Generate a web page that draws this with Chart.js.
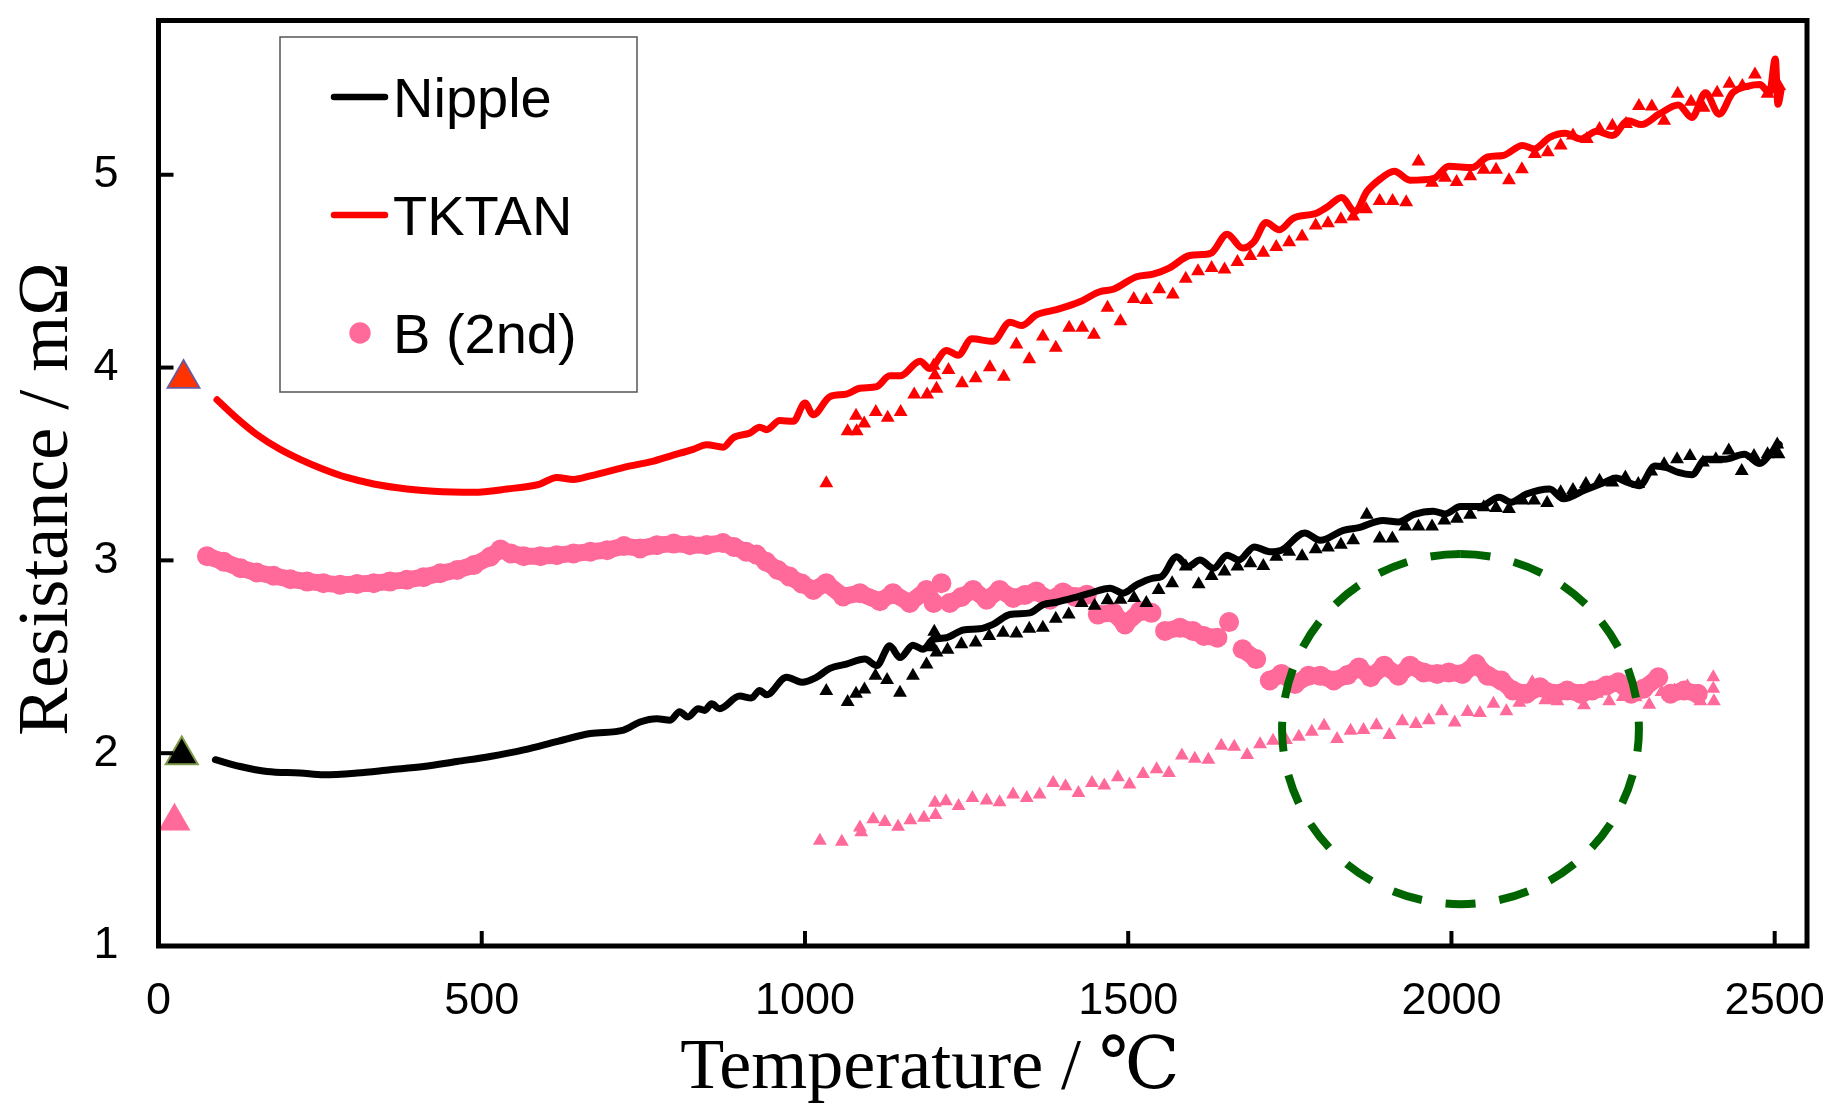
<!DOCTYPE html>
<html>
<head>
<meta charset="utf-8">
<script src="https://cdn.jsdelivr.net/npm/chart.js@4.4.1/dist/chart.umd.min.js"></script>
<style>
html,body{margin:0;padding:0;background:#ffffff;}
canvas{display:block;}
</style>
</head>
<body>
<canvas id="c" width="1831" height="1106"></canvas>
<script>
// ---------------- DATA (temperature °C, resistance mΩ) ----------------
const xTickValues = [0, 500, 1000, 1500, 2000, 2500];
const yTickValues = [1, 2, 3, 4, 5];
const xTitle = 'Temperature / ℃';
const yTitle = 'Resistance / mΩ';
const legendLabels = ['Nipple', 'TKTAN', 'B (2nd)'];

// Nipple (continuous line)
const nippleLine = [[88,1.966],[126.5,1.931],[168,1.905],[219,1.897],[255.5,1.888],[307,1.897],[358.5,1.914],[410,1.931],[461.6,1.957],[513,1.983],[565,2.017],[616,2.06],[668,2.102],[719.5,2.12],[745,2.162],[771,2.179],[791.5,2.171],[806,2.215],[819,2.188],[835,2.231],[845,2.222],[855.5,2.256],[868,2.231],[899,2.296],[917,2.286],[930,2.325],[940.6,2.303],[971.5,2.394],[995,2.368],[1018,2.394],[1038.5,2.44],[1064,2.462],[1092.6,2.488],[1111,2.454],[1131,2.557],[1147,2.496],[1167,2.56],[1183,2.539],[1198,2.59],[1219,2.599],[1245,2.639],[1270,2.645],[1291,2.668],[1317,2.719],[1348,2.728],[1368,2.77],[1389,2.783],[1415,2.805],[1441,2.83],[1472,2.856],[1492,2.83],[1513,2.873],[1538.5,2.908],[1551.5,2.916],[1575,3.019],[1593,2.968],[1611,3.002],[1632,2.959],[1653,3.027],[1671,3.002],[1695,3.07],[1719,3.045],[1737,3.053],[1773,3.142],[1797,3.104],[1833,3.156],[1857,3.17],[1894,3.207],[1918,3.199],[1942,3.238],[1972,3.255],[1990,3.241],[2014,3.279],[2044,3.279],[2074,3.327],[2092,3.302],[2116,3.344],[2152,3.37],[2173,3.319],[2206.5,3.365],[2236.6,3.404],[2254.5,3.427],[2272.6,3.404],[2290.7,3.387],[2315,3.49],[2333,3.481],[2351,3.456],[2372,3.444],[2393,3.524],[2423,3.524],[2453,3.55],[2477,3.502],[2495,3.559],[2507,3.601]];

// Nipple (triangles)
const nippleTri = [[1033,2.322],[1066,2.265],[1079,2.308],[1092,2.33],[1109,2.402],[1127,2.38],[1147,2.313],[1167,2.402],[1188,2.46],[1198,2.55],[1200,2.63],[1201,2.60],[1203.5,2.522],[1220.5,2.536],[1242,2.565],[1264,2.574],[1285,2.608],[1306.5,2.625],[1327,2.621],[1347,2.645],[1368,2.65],[1388,2.697],[1408,2.719],[1428,2.779],[1448,2.765],[1468,2.793],[1488,2.796],[1509,2.805],[1528,2.779],[1547,2.847],[1568,2.882],[1589,2.968],[1609,2.876],[1629,2.919],[1649,2.942],[1669,2.968],[1689,2.985],[1709,2.971],[1729,3.019],[1749,3.045],[1769,3.022],[1790,3.058],[1809,3.067],[1829,3.081],[1848,3.104],[1869,3.236],[1889,3.113],[1908.6,3.113],[1928.5,3.176],[1949,3.176],[1970,3.176],[1989,3.207],[2008.5,3.216],[2029,3.236],[2050,3.276],[2069,3.272],[2089,3.267],[2110,3.31],[2128,3.31],[2148,3.298],[2169,3.353],[2188,3.365],[2208,3.396],[2229,3.413],[2249,3.404],[2269,3.43],[2289,3.396],[2309,3.461],[2329,3.499],[2349,3.524],[2369,3.541],[2389,3.507],[2409,3.524],[2429,3.57],[2449,3.464],[2468,3.541],[2489,3.55],[2504,3.601],[2506,3.55]];

// TKTAN (continuous line)
const tktanLine = [[90.5,3.833],[121,3.738],[152,3.653],[188,3.576],[219,3.524],[255,3.473],[291.5,3.430],[333,3.396],[384,3.370],[425.6,3.358],[487.5,3.353],[539,3.370],[590,3.396],[616,3.430],[642,3.420],[668,3.438],[699,3.464],[730,3.490],[766,3.515],[791.5,3.541],[827,3.576],[848,3.600],[873.5,3.587],[889,3.636],[915,3.661],[930,3.690],[940.6,3.678],[961,3.725],[982,3.721],[1000,3.816],[1012.7,3.755],[1038.5,3.849],[1064,3.862],[1085,3.893],[1111,3.901],[1131,3.957],[1147,3.957],[1178,4.033],[1193,3.995],[1219,4.089],[1237,4.064],[1258,4.149],[1291,4.136],[1317,4.235],[1335,4.218],[1358,4.273],[1389,4.300],[1425,4.341],[1456,4.393],[1477,4.406],[1513,4.471],[1538.5,4.484],[1564,4.517],[1595,4.581],[1615,4.586],[1629,4.595],[1653,4.692],[1677,4.620],[1695,4.655],[1713,4.752],[1734,4.715],[1755,4.774],[1791,4.800],[1809,4.835],[1830,4.882],[1851,4.809],[1869,4.912],[1887.6,4.972],[1911.7,5.018],[1935.6,4.972],[1972,4.980],[1996,5.044],[2032,5.037],[2056,5.092],[2080,5.100],[2110,5.152],[2128,5.134],[2152,5.194],[2176,5.215],[2200,5.186],[2225,5.225],[2249,5.203],[2273,5.280],[2294,5.260],[2321,5.314],[2351,5.362],[2372,5.297],[2393,5.425],[2414,5.314],[2435,5.425],[2459,5.460],[2477,5.468],[2492,5.425],[2501,5.600],[2505,5.365],[2510,5.440]];

// TKTAN (triangles)
const tktanTri = [[1033,3.40],[1066,3.67],[1079,3.75],[1080,3.67],[1091.6,3.71],[1109.6,3.77],[1128,3.74],[1148,3.77],[1169,3.86],[1189,3.86],[1199,4.01],[1201,3.96],[1203.5,3.89],[1222,3.987],[1243,3.918],[1264,3.944],[1286,4.002],[1307.6,3.952],[1327,4.12],[1347,4.043],[1368,4.161],[1388,4.103],[1408.6,4.207],[1429,4.207],[1447,4.17],[1468,4.31],[1488,4.24],[1508.6,4.355],[1528,4.351],[1548,4.406],[1569,4.379],[1589,4.461],[1608,4.50],[1629,4.517],[1649,4.509],[1669,4.547],[1689,4.578],[1709,4.595],[1729,4.625],[1749,4.65],[1769,4.68],[1790,4.737],[1809,4.749],[1829,4.769],[1848,4.783],[1868,4.821],[1889,4.864],[1909,4.864],[1930,4.857],[1949,5.069],[1970,4.958],[1990,4.985],[2008,4.963],[2029,4.992],[2050,5.026],[2069,5.026],[2089,4.972],[2109,5.028],[2129,5.108],[2149,5.117],[2169,5.152],[2188,5.203],[2209.5,5.186],[2229,5.237],[2249,5.254],[2270,5.263],[2290,5.357],[2310,5.354],[2329,5.28],[2350,5.42],[2370.6,5.378],[2390,5.348],[2411,5.425],[2430,5.472],[2450,5.46],[2469.5,5.52],[2489,5.42],[2507,5.46]];

// B (2nd) circles
const bCircles = [[75,3.022],[101,2.993],[127,2.959],[152,2.937],[178,2.920],[204,2.902],[230,2.890],[255,2.882],[281,2.873],[307,2.878],[333,2.882],[358,2.890],[384,2.899],[410,2.913],[436,2.933],[462,2.950],[488,2.976],[513,3.019],[529,3.057],[545,3.036],[565,3.022],[591,3.022],[616,3.027],[642,3.036],[668,3.045],[694,3.053],[720,3.074],[745,3.062],[771,3.079],[797,3.087],[822,3.079],[848,3.080],[873,3.090],[890,3.070],[909,3.045],[925,3.030],[940,2.993],[958,2.950],[976,2.916],[995,2.880],[1013,2.847],[1033,2.882],[1059,2.813],[1085,2.830],[1116,2.788],[1136,2.830],[1162,2.779],[1188,2.847],[1199,2.779],[1211,2.882],[1224,2.779],[1242,2.810],[1260,2.847],[1281,2.796],[1301,2.847],[1322,2.805],[1340,2.820],[1358,2.839],[1379,2.796],[1399,2.834],[1418,2.810],[1436,2.822],[1453,2.719],[1477,2.728],[1495,2.668],[1518,2.736],[1536,2.728],[1557,2.634],[1580,2.651],[1600,2.634],[1617,2.608],[1638,2.599],[1656,2.680],[1677,2.539],[1698,2.488],[1719,2.377],[1737,2.411],[1758,2.359],[1779,2.402],[1797,2.402],[1818,2.377],[1839,2.405],[1857,2.445],[1875,2.394],[1896,2.454],[1918,2.402],[1936,2.454],[1957,2.419],[1978,2.411],[1996,2.419],[2017,2.411],[2038,2.462],[2056,2.402],[2077,2.377],[2095,2.325],[2116,2.308],[2137,2.342],[2158,2.308],[2179,2.325],[2200,2.308],[2218,2.325],[2240,2.351],[2258,2.368],[2278,2.308],[2297,2.334],[2320,2.394],[2339,2.308],[2360,2.325],[2381,2.308]];

// B (2nd) triangles
const bTri = [[1023,1.546],[1057,1.541],[1085,1.614],[1087,1.59],[1105.6,1.657],[1123.6,1.643],[1144,1.619],[1163,1.652],[1184,1.665],[1201,1.743],[1202,1.68],[1218,1.751],[1237.6,1.726],[1259,1.768],[1281,1.755],[1301,1.746],[1322,1.786],[1343,1.768],[1363,1.786],[1384,1.845],[1403,1.828],[1423,1.794],[1444,1.845],[1463,1.833],[1484,1.875],[1502,1.837],[1523,1.892],[1544,1.917],[1563,1.897],[1583,1.988],[1603,1.971],[1624,1.966],[1644,2.039],[1664,2.034],[1684,1.991],[1704,2.046],[1724,2.065],[1744,2.068],[1764,2.085],[1784,2.111],[1803,2.142],[1823,2.073],[1844,2.116],[1864,2.12],[1884,2.145],[1904,2.094],[1924,2.166],[1945,2.151],[1965,2.171],[1985,2.217],[2005,2.159],[2025,2.214],[2044,2.209],[2065,2.256],[2085,2.217],[2105,2.262],[2125,2.368],[2145,2.274],[2164,2.269],[2185,2.30],[2205,2.248],[2225,2.308],[2244,2.269],[2265,2.291],[2285,2.29],[2306,2.251],[2325,2.317],[2345,2.325],[2365,2.347],[2385,2.269],[2405,2.394],[2405,2.334],[2406,2.27]];

// Room-temperature reference triangles: TKTAN, Nipple, B (2nd)
const roomTempT = [38.7, 36, 24.7];
const roomTempR = [3.943, 1.99, 1.647];

// Highlighted region (dashed ellipse): centre and half-extent in data units
const highlightCenter = [2014, 2.125];
const highlightHalfSize = [276, 0.908];

// ---------------- CHART ----------------
const RED = '#ff0000', BLACK = '#000000', PINK = '#ff6a9a', GREEN = '#006400';
const toPts = arr => arr.map(p => ({x: p[0], y: p[1]}));

Chart.defaults.font.family = '"Liberation Sans", Arial, sans-serif';
Chart.defaults.color = '#000';

const framePlugin = {
  id: 'framePlugin',
  afterDatasetsDraw(chart) {
    const {ctx, scales: {x, y}} = chart;
    const cx = x.getPixelForValue(highlightCenter[0]);
    const cy = y.getPixelForValue(highlightCenter[1]);
    const rx = Math.abs(x.getPixelForValue(highlightCenter[0] + highlightHalfSize[0]) - cx);
    const ry = Math.abs(y.getPixelForValue(highlightCenter[1] + highlightHalfSize[1]) - cy);
    ctx.save();
    ctx.strokeStyle = GREEN;
    ctx.lineWidth = 8;
    ctx.lineCap = 'butt';
    ctx.setLineDash([30, 24]);
    ctx.beginPath();
    ctx.ellipse(cx, cy, rx, ry, 0, -Math.PI / 2, 1.5 * Math.PI);
    ctx.stroke();
    ctx.restore();
  },
  afterDraw(chart) {
    const {ctx, chartArea: a, scales: {x, y}} = chart;
    ctx.save();
    ctx.strokeStyle = '#000';
    ctx.lineCap = 'butt';
    ctx.lineWidth = 4;
    x.ticks.forEach(t => {
      const px = x.getPixelForValue(t.value);
      ctx.beginPath(); ctx.moveTo(px, a.bottom); ctx.lineTo(px, a.bottom - 15); ctx.stroke();
    });
    y.ticks.forEach(t => {
      const py = y.getPixelForValue(t.value);
      ctx.beginPath(); ctx.moveTo(a.left, py); ctx.lineTo(a.left + 15, py); ctx.stroke();
    });
    ctx.lineWidth = 5;
    ctx.lineJoin = 'miter';
    ctx.strokeRect(a.left, a.top, a.right - a.left, a.bottom - a.top);

    // axis titles
    ctx.fillStyle = '#000';
    ctx.font = '72px "Liberation Serif", "DejaVu Serif", serif';
    ctx.textAlign = 'center';
    ctx.textBaseline = 'alphabetic';
    ctx.fillText(xTitle, 930, 1088);
    ctx.save();
    ctx.translate(67, 499);
    ctx.rotate(-Math.PI / 2);
    ctx.fillText(yTitle, 0, 0);
    ctx.restore();

    // legend box
    ctx.lineWidth = 1.5;
    ctx.strokeStyle = '#555';
    ctx.strokeRect(280, 37, 357, 355);
    const entries = chart.data.datasets.filter(d => d.legendKind);
    const rowsY = [97, 215, 333];
    ctx.font = '56px "Liberation Sans", Arial, sans-serif';
    ctx.textAlign = 'left';
    ctx.textBaseline = 'middle';
    entries.forEach((d, i) => {
      const yy = rowsY[i];
      if (d.legendKind === 'line') {
        ctx.strokeStyle = d.borderColor;
        ctx.lineWidth = 6.5;
        ctx.lineCap = 'round';
        ctx.beginPath(); ctx.moveTo(334, yy); ctx.lineTo(385, yy); ctx.stroke();
      } else {
        ctx.fillStyle = d.pointBackgroundColor;
        ctx.beginPath(); ctx.arc(360, yy, 10.7, 0, Math.PI * 2); ctx.fill();
      }
      ctx.fillStyle = '#000';
      ctx.fillText(d.label, 393, yy + 5);
    });
    ctx.restore();
  }
};

const lineStyle = (color) => ({
  showLine: true, pointRadius: 0, pointHoverRadius: 0, borderColor: color, borderWidth: 7,
  cubicInterpolationMode: 'monotone', borderCapStyle: 'round', borderJoinStyle: 'round', fill: false
});
const triStyle = (color) => ({
  showLine: false, pointStyle: 'triangle', pointRadius: 8, pointHoverRadius: 8,
  pointBackgroundColor: color, pointBorderColor: color, pointBorderWidth: 0
});

new Chart(document.getElementById('c'), {
  type: 'scatter',
  data: {
    datasets: [
      Object.assign({label: legendLabels[0], legendKind: 'line', data: toPts(nippleLine), order: 4}, lineStyle(BLACK)),
      Object.assign({label: legendLabels[1], legendKind: 'line', data: toPts(tktanLine), order: 2}, lineStyle(RED)),
      {label: legendLabels[2], legendKind: 'dot', data: toPts(bCircles), order: 9,
       // dense markers overlap into a band: joined by a marker-thick stroke except across jumps
       showLine: true, borderColor: PINK, borderWidth: 17, borderCapStyle: 'round', borderJoinStyle: 'round',
       tension: 0, fill: false,
       segment: {borderColor: c => Math.abs(c.p1.parsed.y - c.p0.parsed.y) > 0.07 ? 'rgba(0,0,0,0)' : PINK},
       pointStyle: 'circle', pointRadius: 10, pointHoverRadius: 10,
       pointBackgroundColor: PINK, pointBorderColor: PINK, pointBorderWidth: 0},
      Object.assign({label: 'Nipple ▲', data: toPts(nippleTri), order: 3}, triStyle(BLACK)),
      Object.assign({label: 'TKTAN ▲', data: toPts(tktanTri), order: 1}, triStyle(RED)),
      Object.assign({label: 'B (2nd) ▲', data: toPts(bTri), order: 8}, triStyle(PINK)),
      {label: 'room temperature', data: roomTempT.map((t, i) => ({x: t, y: roomTempR[i]})), order: 0,
       showLine: false, pointStyle: 'triangle', pointRadius: 18.5, pointHoverRadius: 18.5,
       pointBackgroundColor: ['#ff3300', '#000000', PINK],
       pointBorderColor: ['#6a5a9e', '#7f9a48', PINK],
       pointBorderWidth: [1.8, 2, 0]}
    ]
  },
  options: {
    responsive: false,
    animation: false,
    devicePixelRatio: 1,
    layout: {padding: {top: 12, right: 24, left: 0, bottom: 0}},
    plugins: {legend: {display: false}, tooltip: {enabled: false}, title: {display: false}},
    scales: {
      x: {
        type: 'linear', position: 'bottom', min: 0, max: 2550,
        afterBuildTicks: s => { s.ticks = xTickValues.map(v => ({value: v})); },
        afterFit: s => { s.height = 160; s.paddingLeft = 0; s.paddingRight = 0; },
        grid: {display: false, drawTicks: false},
        border: {display: false},
        ticks: {font: {size: 45}, color: '#000', padding: 29, maxRotation: 0, autoSkip: false,
                callback: v => String(v)}
      },
      y: {
        type: 'linear', position: 'left', min: 1, max: 5.8,
        afterBuildTicks: s => { s.ticks = yTickValues.map(v => ({value: v})); },
        afterFit: s => { s.width = 158.5; s.paddingTop = 0; s.paddingBottom = 0; },
        grid: {display: false, drawTicks: false},
        border: {display: false},
        ticks: {font: {size: 45}, color: '#000', padding: 40, autoSkip: false,
                callback: v => String(v)}
      }
    }
  },
  plugins: [framePlugin]
});
</script>
</body>
</html>
